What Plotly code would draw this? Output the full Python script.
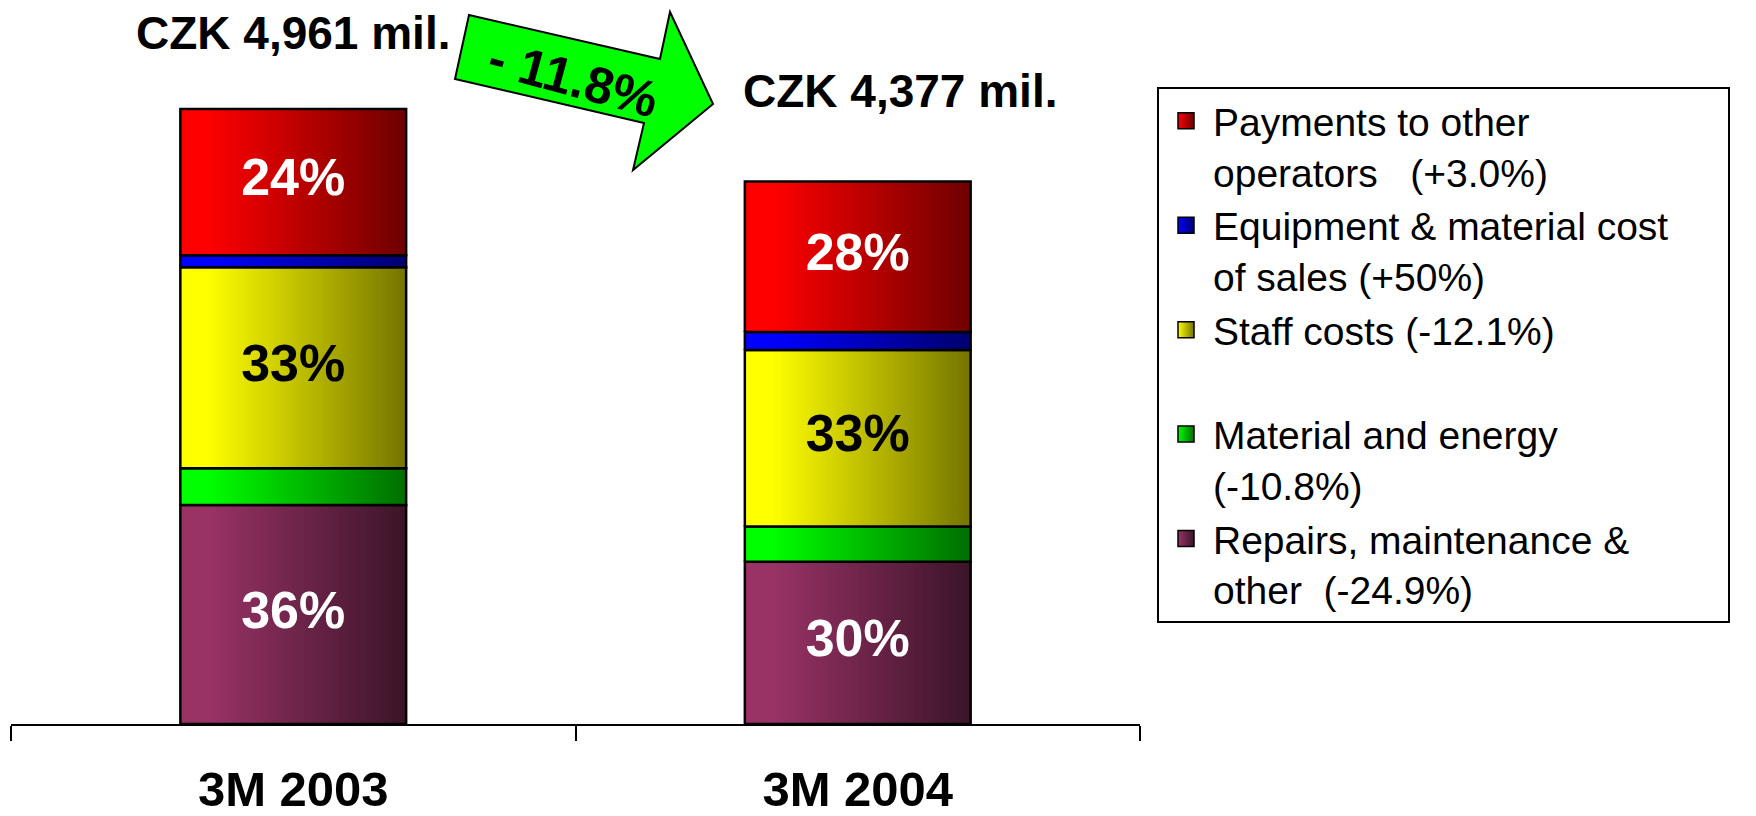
import plotly.graph_objects as go

# ---------------- data (CZK mil.) ----------------
periods = ["3M 2003", "3M 2004"]
repairs = [1766, 1308]
material = [298, 285]
staff = [1620, 1424]
equipment = [97, 145]
payments = [1180, 1215]

repairs_pct = ["36%", "30%"]
material_pct = ["", ""]
staff_pct = ["33%", "33%"]
equipment_pct = ["", ""]
payments_pct = ["24%", "28%"]

legend_names = [
    "Payments to other<br>operators\u00a0\u00a0\u00a0(+3.0%)",
    "Equipment & material cost" + "\u00a0" * 5 + "<br>of sales (+50%)",
    "Staff costs (-12.1%)<br>\u00a0",
    "Material and energy<br>(-10.8%)",
    "Repairs, maintenance &<br>other\u00a0\u00a0(-24.9%)",
]

# stacking order bottom -> top
stack = [
    ("repairs", repairs, repairs_pct, "#993366", "#3b1428", "white"),
    ("material", material, material_pct, "#00ff00", "#006e00", "black"),
    ("staff", staff, staff_pct, "#ffff00", "#747400", "black"),
    ("equipment", equipment, equipment_pct, "#0000ff", "#00006e", "white"),
    ("payments", payments, payments_pct, "#ff0000", "#6e0000", "white"),
]

FONT = "Liberation Sans, Arial, sans-serif"
OFF = 8  # page body margin
W, H = 1756 - OFF, 816 - OFF
ML, MT = 11 - OFF, 10 - OFF
MR = W - (1140 - OFF)
MB = H - (724 - OFF)
PW, PH = W - ML - MR, H - MT - MB
BAR_HALF = 0.2

fig = go.Figure()

text_x, text_y, text_s, text_c = [], [], [], []
base = [0] * len(periods)
for key, vals, pcts, light, dark, tcol in stack:
    for i, v in enumerate(vals):
        b, t = base[i], base[i] + v
        fig.add_trace(go.Scatter(
            x=[i - BAR_HALF, i + BAR_HALF, i + BAR_HALF, i - BAR_HALF, i - BAR_HALF],
            y=[b, b, t, t, b],
            mode="lines", fill="toself",
            fillgradient=dict(type="horizontal",
                              colorscale=[[0, light], [0.12, light], [1, dark]]),
            line=dict(color="black", width=2.5),
            showlegend=False, hoverinfo="skip",
        ))
        if pcts[i]:
            text_x.append(i)
            text_y.append((b + t) / 2)
            text_s.append(pcts[i])
            text_c.append(tcol)
        base[i] = t

fig.add_trace(go.Scatter(
    x=text_x, y=text_y, text=text_s, mode="text",
    textposition="middle center",
    textfont=dict(family=FONT, size=52, color=text_c, weight="bold"),
    showlegend=False, hoverinfo="skip",
))

# legend entries (top to bottom)
for name, (key, vals, pcts, light, dark, tcol) in zip(legend_names, stack[::-1]):
    fig.add_trace(go.Scatter(
        x=[None], y=[None], mode="markers", name=name,
        marker=dict(symbol="square", size=16, color=light,
                    gradient=dict(type="horizontal", color=dark),
                    line=dict(color="black", width=1.5)),
    ))

totals = base
change = (totals[1] / totals[0] - 1) * 100


def px2paper(xp, yp):
    """reference page pixel -> paper coordinates"""
    return (xp - OFF - ML) / PW, (H - MB - (yp - OFF)) / PH


# totals above bars
shifts = [(0, 76), (42, 90)]
for i, tot in enumerate(totals):
    fig.add_annotation(
        x=i, y=tot, xref="x", yref="y", text=f"CZK {tot:,} mil.",
        showarrow=False, xshift=shifts[i][0], yshift=shifts[i][1],
        yanchor="middle", xanchor="center",
        font=dict(family=FONT, size=46, color="black", weight="bold"),
    )

# green arrow decoration
arrow_px = [(469, 15), (660, 59), (670, 12), (713, 104), (633, 170), (644, 123), (455, 79)]
pts = [px2paper(a, b) for a, b in arrow_px]
path = "M " + " L ".join(f"{a:.5f},{b:.5f}" for a, b in pts) + " Z"
fig.add_shape(type="path", path=path, xref="paper", yref="paper",
              fillcolor="#00ff00", line=dict(color="black", width=2), layer="above")
ax_, ay_ = px2paper(573, 78)
fig.add_annotation(
    x=ax_, y=ay_, xref="paper", yref="paper", showarrow=False,
    xanchor="center", yanchor="middle",
    text=f"- {abs(change):.1f}%", textangle=15,
    font=dict(family=FONT, size=51, color="black", weight="bold"),
)

lx, _ = px2paper(1157, 0)
_, ly = px2paper(0, 87)
fig.update_layout(
    width=W, height=H,
    margin=dict(l=ML, r=MR, t=MT, b=MB, autoexpand=False),
    paper_bgcolor="white", plot_bgcolor="white",
    font=dict(family=FONT, color="black"),
    showlegend=True,
    legend=dict(
        x=lx, y=ly, xanchor="left", yanchor="top",
        bgcolor="white", bordercolor="black", borderwidth=2,
        font=dict(family=FONT, size=39, color="black"),
        valign="top", itemwidth=44, tracegroupgap=0,
    ),
    xaxis=dict(
        range=[-0.5, 1.5], showgrid=False, zeroline=False,
        showline=True, linecolor="black", linewidth=2,
        tickmode="array", tickvals=list(range(len(periods))), ticktext=periods,
        ticks="", ticklabelstandoff=21,
        tickfont=dict(family=FONT, size=49, color="black", weight="bold"),
        minor=dict(tickmode="array", tickvals=[-0.5, 0.5, 1.5], ticks="outside",
                   ticklen=15, tickwidth=1.5, tickcolor="black", showgrid=False),
    ),
    yaxis=dict(range=[0, PH / (615 / 4961)], visible=False, fixedrange=True),
)

fig.write_html("out.html")
